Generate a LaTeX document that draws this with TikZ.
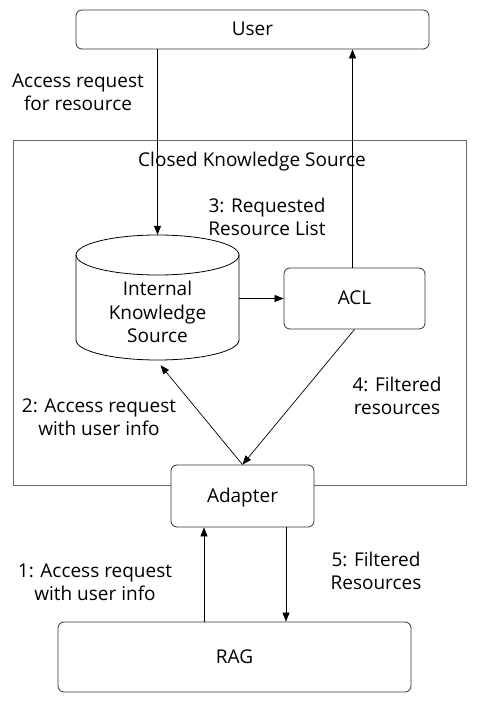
\documentclass[tikz,border=0pt]{standalone}
\usepackage{fontspec}
\setmainfont{Open Sans}
\usetikzlibrary{arrows.meta,calc}
\begin{document}
\begin{tikzpicture}[x=1pt,y=-1pt,
  font=\fontsize{19}{23}\selectfont,
  box/.style={draw=black!80, fill=white, rounded corners=6pt, line width=0.8pt, inner sep=0pt, text height=13pt, text depth=1pt},
  arr/.style={-{Triangle[length=9pt,width=7pt]}, line width=0.7pt},
  lbl/.style={align=center, inner sep=0pt, font=\fontsize{19}{23}\selectfont}]
\useasboundingbox (0,0) rectangle (478,703);
\fill[white] (0,0) rectangle (478,703);
% outer closed box
\node[draw=black!60, line width=0.8pt, minimum width=453pt, minimum height=345pt, inner sep=0pt] (cks) at (239.5,312.5) {};
\node[lbl] (cksl) at (252,162) {Closed Knowledge Source};
% nodes
\node[box, minimum width=353pt, minimum height=39pt] (user) at (252.5,29.5) {User};
\node[box, minimum width=141pt, minimum height=61pt] (acl) at (354.5,298.5) {ACL};
\node[box, minimum width=143pt, minimum height=62pt] (adapter) at (242.5,496) {Adapter};
\node[box, minimum width=353pt, minimum height=70pt] (rag) at (234.5,657) {RAG};
% cylinder
\node[minimum width=163pt, minimum height=125pt, inner sep=0pt, align=center] (ks) at (157.5,297.5) {};
\draw[line width=0.8pt] (157.5,255) ellipse [x radius=81.5pt, y radius=20pt];
\draw[line width=0.8pt] (76,255) -- (76,340) arc[start angle=180, end angle=360, x radius=81.5pt, y radius=20pt] -- (239,255);
\node[lbl, font=\fontsize{19}{23.5}\selectfont] (kst) at (157.5,312) {Internal\\Knowledge\\Source};
% labels
\node[lbl] (l0) at (78,92) {Access request\\for resource};
\node[lbl] (l3) at (267,217) {3: Requested\\Resource List};
\node[lbl] (l4) at (397,396) {4: Filtered\\resources};
\node[lbl] (l2) at (99,417) {2: Access request\\with user info};
\node[lbl] (l1) at (95,582) {1: Access request\\with user info};
\node[lbl] (l5) at (376,571) {5: Filtered\\Resources};
% connectors
\draw[arr] (ks.north |- user.south) -- (ks.north);
\draw[arr] ([xshift=-2pt]acl.north) -- ([xshift=-2pt]acl.north |- user.south);
\draw[arr] (acl.west -| ks.east) -- (acl.west);
\draw[arr] (acl.south) -- (adapter.north);
\draw[arr] (adapter.north) -- ([xshift=3pt,yshift=-5pt]ks.south);
\coordinate (aup) at (204,0);
\coordinate (adn) at (286,0);
\draw[arr] (aup |- rag.north) -- (aup |- adapter.south);
\draw[arr] (adn |- adapter.south) -- (adn |- rag.north);
\end{tikzpicture}
\end{document}
